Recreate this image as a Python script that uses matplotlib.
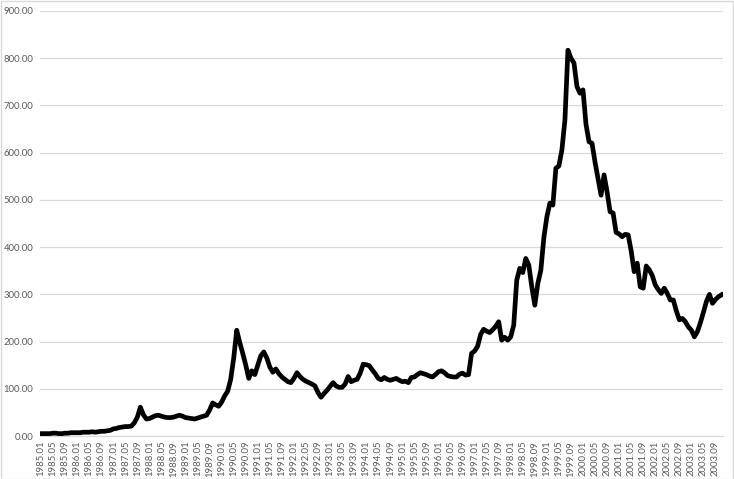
import matplotlib
matplotlib.use("Agg")
import matplotlib.pyplot as plt
from matplotlib.patches import Rectangle

# monthly values, 1985.01 .. 2003.11
values_1985_1989 = [
    5, 5, 5, 5, 6, 6, 5, 5, 6, 6, 7, 7,
    7, 7, 8, 8, 8, 9, 8, 9, 10, 10, 11, 12,
    15, 16, 18, 19, 20, 20, 21, 28, 40, 61, 45, 36,
    37, 40, 43, 44, 42, 40, 39, 39, 40, 42, 44, 42,
    39, 38, 37, 36, 38, 40, 42, 44, 55, 70, 66, 63,
]
values_1990_1994 = [
    72, 85, 95, 120, 165, 224, 198, 175, 150, 122, 138, 130,
    150, 170, 178, 165, 146, 135, 142, 132, 125, 120, 115, 113,
    122, 134, 126, 120, 116, 113, 110, 106, 92, 82, 90, 97,
    105, 113, 106, 103, 103, 110, 126, 115, 118, 120, 133, 152,
    151, 149, 140, 132, 122, 119, 124, 120, 118, 120, 122, 118,
]
values_1995_1999 = [
    115, 116, 113, 124, 125, 130, 134, 132, 130, 127, 125, 130,
    136, 138, 134, 128, 126, 125, 125, 131, 133, 129, 130, 175,
    180, 190, 215, 226, 222, 219, 225, 232, 242, 203, 209, 203,
    210, 235, 330, 355, 346, 376, 362, 316, 277, 323, 351, 420,
    464, 493, 489, 567, 572, 606, 669, 817, 800, 790, 740, 726,
]
values_2000_2003 = [
    733, 660, 623, 620, 580, 545, 510, 553, 517, 475, 472, 431,
    428, 422, 427, 426, 392, 348, 366, 316, 313, 360, 352, 340,
    320, 310, 302, 313, 302, 288, 288, 265, 246, 249, 242, 231,
    224, 210, 221, 240, 262, 285, 300, 281, 289, 295, 299,
]
values = values_1985_1989 + values_1990_1994 + values_1995_1999 + values_2000_2003

months = []
for year in range(1985, 2004):
    for m in range(1, 13):
        months.append(f"{year}.{m:02d}")
months = months[:len(values)]

y_ticks = [0, 100, 200, 300, 400, 500, 600, 700, 800, 900]

plt.rcParams['font.family'] = ['Lato', 'DejaVu Sans']

fig = plt.figure(figsize=(7.34, 4.79), dpi=100)
ax = fig.add_axes([39.5 / 734, 1 - 436 / 479, (723 - 39.5) / 734, 425 / 479])

x = list(range(len(values)))
ax.plot(x, values, color='black', linewidth=3.4, solid_joinstyle='round', zorder=3)

ax.set_xlim(-0.5, len(values) - 0.5)
ax.set_ylim(0, 900)
ax.set_yticks(y_ticks)
ax.set_yticklabels([f"{v:.2f}" for v in y_ticks])
ax.set_xticks(x[::4])
ax.set_xticklabels(months[::4], rotation=90)

ax.grid(axis='y', color='#d9d9d9', linewidth=0.9, zorder=0)
for side in ['top', 'right', 'left']:
    ax.spines[side].set_visible(False)
ax.spines['bottom'].set_color('#d9d9d9')
ax.tick_params(axis='both', length=0, labelsize=6.8, colors='#595959')
ax.tick_params(axis='y', pad=4.5)
ax.tick_params(axis='x', pad=3.5)

fig.patches.append(Rectangle((0.001, 0.001), 0.997, 0.996, transform=fig.transFigure,
                             fill=False, edgecolor='#d9d9d9', linewidth=1.0))

fig.savefig("out.png", dpi=100)
